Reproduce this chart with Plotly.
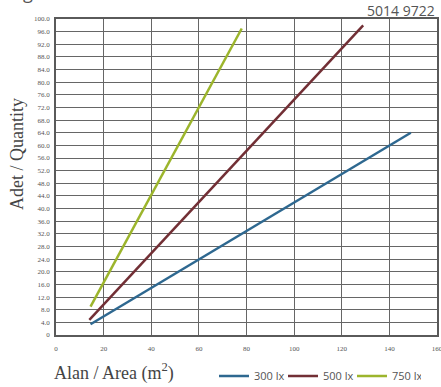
import plotly.graph_objects as go

# Data
series_names = ["300 lx", "500 lx", "750 lx"]
area_300 = [14.5, 149.0]
qty_300 = [3.4, 64.0]
area_500 = [14.0, 129.0]
qty_500 = [4.8, 98.0]
area_750 = [14.5, 78.0]
qty_750 = [9.0, 97.0]
colors = ["#2e6890", "#722f35", "#9cb52c"]

x_tickvals = [0, 20, 40, 60, 80, 100, 120, 140, 160]
x_ticktext = ["0", "20", "40", "60", "80", "100", "120", "140", "160"]
y_tickvals = [0, 4, 8, 12, 16, 20, 24, 28, 32, 36, 40, 44, 48, 52, 56, 60, 64, 68, 72, 76, 80, 84, 88, 92, 96, 100]
y_ticktext = ["0", "4.0", "8.0", "12.0", "16.0", "20.0", "24.0", "28.0", "32.0", "36.0", "40.0", "44.0", "48.0",
              "52.0", "56.0", "60.0", "64.0", "68.0", "72.0", "76.0", "80.0", "84.0", "88.0", "92.0", "96.0", "100.0"]

fig = go.Figure()
for name, xs, ys, c in zip(series_names, [area_300, area_500, area_750], [qty_300, qty_500, qty_750], colors):
    fig.add_trace(go.Scatter(x=xs, y=ys, mode="lines", name=name, line=dict(color=c, width=2.5)))

W, H = 441, 387
L, R, T, B = 56, 4, 19, 52

axis_common = dict(showgrid=True, gridcolor="#666666", gridwidth=1.3, zeroline=False,
                   showline=True, linecolor="#5a5a5a", linewidth=1.6, mirror=True,
                   ticks="", ticklabeloverflow="allow",
                   tickfont=dict(family="Liberation Serif", size=7, color="#555555"))

fig.update_xaxes(range=[0, 160], tickvals=x_tickvals, ticktext=x_ticktext, ticklabelstandoff=6, **axis_common)
fig.update_yaxes(range=[0, 100], tickvals=y_tickvals, ticktext=y_ticktext, ticklabelstandoff=3, **axis_common)

pw = W - L - R
ph = H - T - B

def px_x(p):
    return (p - L) / pw

def px_y(p):
    return 1 - (p - T) / ph

fig.update_layout(
    width=W, height=H,
    margin=dict(l=L, r=R, t=T, b=B, autoexpand=False),
    paper_bgcolor="white", plot_bgcolor="white",
    showlegend=True,
    legend=dict(orientation="h", x=px_x(214), xanchor="left", y=px_y(376), yanchor="middle",
                font=dict(family="Open Sans", size=11, color="#555555"),
                bgcolor="rgba(0,0,0,0)", entrywidth=24, tracegroupgap=0, itemwidth=30),
    annotations=[
        dict(text="Adet / Quantity", textangle=-90, x=px_x(17), y=px_y(154), xref="paper", yref="paper",
             showarrow=False, font=dict(family="Liberation Serif", size=18, color="#444444"),
             xanchor="center", yanchor="middle"),
        dict(text="Alan / Area (m<sup>2</sup>)", x=px_x(52), y=px_y(372), xref="paper", yref="paper",
             showarrow=False, font=dict(family="Liberation Serif", size=18, color="#444444"),
             xanchor="left", yanchor="middle"),
        dict(text="5014 9722", x=px_x(437), y=px_y(10), xref="paper", yref="paper",
             showarrow=False, font=dict(family="Open Sans", size=14, color="#555555"),
             xanchor="right", yanchor="middle"),
        dict(text="g", x=px_x(28), y=px_y(-8), xref="paper", yref="paper",
             showarrow=False, font=dict(family="Open Sans", size=18, color="#555555"),
             xanchor="center", yanchor="middle"),
    ],
)

fig.write_html("out.html", config={"displayModeBar": False},
               post_script="document.body.style.margin='0';")
